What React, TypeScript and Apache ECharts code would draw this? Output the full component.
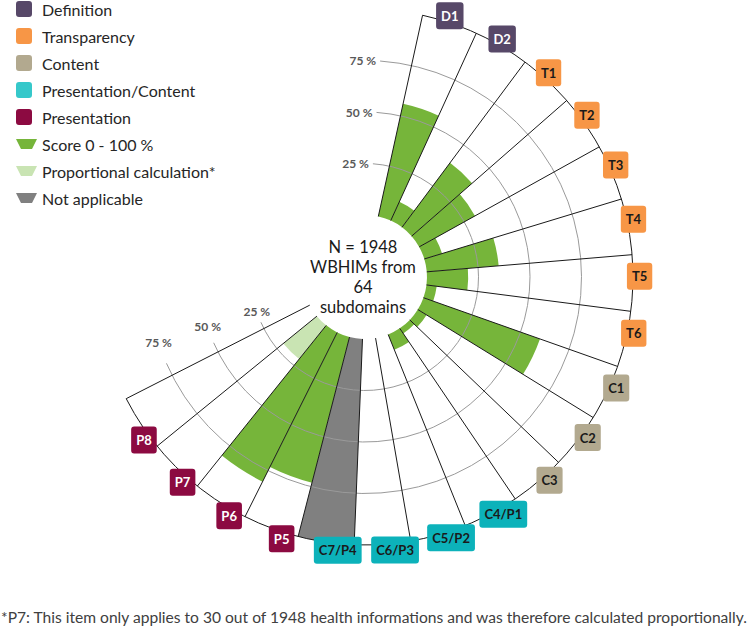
import React, { useEffect, useRef } from 'react';
import * as echarts from 'echarts';

// ---------- data ----------
const categories = ['D1', 'D2', 'T1', 'T2', 'T3', 'T4', 'T5', 'T6', 'C1', 'C2', 'C3', 'C4/P1', 'C5/P2', 'C6/P3', 'C7/P4', 'P5', 'P6', 'P7', 'P8'];
const categoryGroups = ['D', 'D', 'T', 'T', 'T', 'T', 'T', 'T', 'C', 'C', 'C', 'CP', 'CP', 'CP', 'CP', 'P', 'P', 'P', 'P'];
const scoreValues = [56, 10, 39, 31, 9, 35, 20, 5, 60, 5, 3, 8, 0, 0, null, 73, 81, null, 0];
const proportionalValues = [null, null, null, null, null, null, null, null, null, null, null, null, null, null, null, null, null, 21, null];
const notApplicableValues = [null, null, null, null, null, null, null, null, null, null, null, null, null, null, 100, null, null, null, null];
const radiusTicks = [25, 50, 75];
const groupNames = ['Definition', 'Transparency', 'Content', 'Presentation/Content', 'Presentation'];
const seriesNames = ['Score 0 - 100 %', 'Proportional calculation*', 'Not applicable'];
const centerLines = ['N = 1948', 'WBHIMs from', '64', 'subdomains'];
const footnote = '*P7: This item only applies to 30 out of 1948 health informations and was therefore calculated proportionally.';

// ---------- styles / geometry ----------
const FONT = 'Lato, "Open Sans", sans-serif';
const CX = 365;
const CY = 277;
const R_IN = 62;
const R_OUT = 268;
const START_CW = 12.4; // degrees clockwise from 12 o'clock
const SPAN = 230.6;
const LABEL_START_CW = 12.0; // label ring (slightly tighter than the sectors)
const LABEL_SPAN = 227.6;
const LEADER_START_CW = 4;
const LEADER_END_CW = 246.5;
const LOWER_LABEL_CW = 252.5;
const LABEL_R = 103.2;

const GREEN = '#76b53a';
const LIGHT_GREEN = '#c9e4b3';
const GRAY = '#808080';
const groupStyle: Record<string, { bg: string; fg: string; legend: string }> = {
  D: { bg: '#574868', fg: '#ffffff', legend: '#574868' },
  T: { bg: '#f79646', fg: '#1a1a1a', legend: '#f79646' },
  C: { bg: '#b2a98f', fg: '#1a1a1a', legend: '#b2a98f' },
  CP: { bg: '#0cb2ba', fg: '#1a1a1a', legend: '#36c8ca' },
  P: { bg: '#8c0a41', fg: '#ffffff', legend: '#8c0a41' },
};
const groupKeys = ['D', 'T', 'C', 'CP', 'P'];

const SQUARE = 'path://M3,0H13A3,3 0 0 1 16,3V13A3,3 0 0 1 13,16H3A3,3 0 0 1 0,13V3A3,3 0 0 1 3,0ZM21,8L21,8Z';
const TRAP = 'path://M0,3H21L16,13H5ZM0,0L0,0ZM0,16L0,16Z';

const rOf = (v: number) => R_IN + ((R_OUT - R_IN) * v) / 100;

const hiddenAxis = {
  axisLine: { show: false },
  axisTick: { show: false },
  axisLabel: { show: false },
  splitLine: { show: false },
};

export default function App() {
  const ref = useRef<HTMLDivElement>(null);

  useEffect(() => {
    if (!ref.current) return;
    const chart = echarts.init(ref.current, undefined, { renderer: 'svg' });

    const lowerLabels = radiusTicks.map((v) => {
      const r = rOf(v);
      const a = (LOWER_LABEL_CW * Math.PI) / 180;
      return {
        type: 'text',
        x: CX + r * Math.sin(a),
        y: CY - r * Math.cos(a),
        z: 20,
        style: {
          text: v + ' %',
          fill: '#595959',
          font: 'bold 12px ' + FONT,
          align: 'center',
          verticalAlign: 'middle',
          textAlign: 'center',
          textVerticalAlign: 'middle',
        },
      };
    });

    const option: any = {
      animation: false,
      backgroundColor: '#ffffff',
      textStyle: { fontFamily: FONT },
      legend: {
        orient: 'vertical',
        left: 11,
        top: -4,
        itemWidth: 21,
        itemHeight: 16,
        itemGap: 11,
        selectedMode: false,
        textStyle: { fontFamily: FONT, fontSize: 16, color: '#262626', lineHeight: 16 },
        data: [
          ...groupNames.map((n) => ({ name: n, icon: SQUARE })),
          ...seriesNames.map((n) => ({ name: n, icon: TRAP })),
        ],
      },
      polar: [
        { center: [CX, CY], radius: [R_IN, R_OUT] },
        { center: [CX, CY], radius: [R_IN, R_OUT] },
        { center: [CX, CY], radius: [0, R_OUT] },
        { center: [CX, CY], radius: [R_IN, R_OUT] },
      ],
      angleAxis: [
        {
          polarIndex: 0,
          type: 'category',
          data: categories,
          startAngle: 90 - START_CW,
          endAngle: 90 - START_CW - SPAN,
          clockwise: true,
          boundaryGap: true,
          axisLine: { show: false },
          axisTick: { show: false },
          axisLabel: { show: false },
          splitLine: { show: true, lineStyle: { color: '#1a1a1a', width: 1 } },
          z: 5,
        },
        {
          polarIndex: 1,
          type: 'value',
          min: 0,
          max: 1,
          startAngle: 90 - LEADER_START_CW,
          endAngle: 90 - LEADER_END_CW,
          clockwise: true,
          ...hiddenAxis,
          z: 4,
        },
        {
          polarIndex: 2,
          type: 'value',
          min: 0,
          max: 1,
          startAngle: 90 - START_CW,
          endAngle: 90 - START_CW - SPAN,
          clockwise: true,
          ...hiddenAxis,
          axisLine: { show: true, lineStyle: { color: '#1a1a1a', width: 1 } },
          z: 5,
        },
        {
          polarIndex: 3,
          type: 'category',
          data: categories,
          startAngle: 90 - LABEL_START_CW,
          endAngle: 90 - LABEL_START_CW - LABEL_SPAN,
          clockwise: true,
          boundaryGap: true,
          ...hiddenAxis,
        },
      ],
      radiusAxis: [
        { polarIndex: 0, type: 'value', min: 0, max: 100, interval: 25, ...hiddenAxis },
        {
          polarIndex: 1,
          type: 'value',
          min: 0,
          max: 100,
          interval: 25,
          axisLine: { show: false },
          axisTick: { show: false },
          axisLabel: {
            show: true,
            margin: 4,
            color: '#595959',
            fontFamily: FONT,
            fontSize: 12,
            fontWeight: 'bold',
            formatter: (v: number) => (radiusTicks.indexOf(v) >= 0 ? v + ' %' : ''),
          },
          splitLine: {
            show: true,
            lineStyle: { color: ['rgba(0,0,0,0)', '#9a9a9a', '#9a9a9a', '#9a9a9a', 'rgba(0,0,0,0)'], width: 1 },
          },
          z: 4,
        },
        { polarIndex: 2, type: 'value', min: 0, max: 100, ...hiddenAxis },
        { polarIndex: 3, type: 'value', min: 0, max: 100, ...hiddenAxis },
      ],
      series: [
        {
          type: 'bar',
          name: seriesNames[0],
          coordinateSystem: 'polar',
          polarIndex: 0,
          stack: 'score',
          barCategoryGap: '0%',
          data: scoreValues,
          itemStyle: { color: GREEN },
          z: 2,
        },
        {
          type: 'bar',
          name: seriesNames[1],
          coordinateSystem: 'polar',
          polarIndex: 0,
          stack: 'score',
          barCategoryGap: '0%',
          data: proportionalValues,
          itemStyle: { color: LIGHT_GREEN },
          z: 2,
        },
        {
          type: 'bar',
          name: seriesNames[2],
          coordinateSystem: 'polar',
          polarIndex: 0,
          stack: 'score',
          barCategoryGap: '0%',
          data: notApplicableValues,
          itemStyle: { color: GRAY },
          z: 2,
        },
        ...groupNames.map((n, i) => ({
          type: 'scatter',
          name: n,
          coordinateSystem: 'polar',
          polarIndex: 0,
          data: [],
          itemStyle: { color: groupStyle[groupKeys[i]].legend, opacity: 1 },
        })),
        {
          type: 'scatter',
          name: 'item labels',
          coordinateSystem: 'polar',
          polarIndex: 3,
          clip: false,
          symbolSize: 0.1,
          silent: true,
          z: 10,
          itemStyle: { color: 'rgba(0,0,0,0)', opacity: 1 },
          label: {
            show: true,
            position: 'inside',
            fontFamily: FONT,
            fontSize: 13,
            fontWeight: 'bold',
            lineHeight: 13,
            padding: [7, 5, 7, 5],
            borderRadius: 3,
            opacity: 1,
            formatter: (p: any) => categories[p.dataIndex],
          },
          data: categories.map((c, i) => ({
            value: [LABEL_R, c],
            label: {
              backgroundColor: groupStyle[categoryGroups[i]].bg,
              color: groupStyle[categoryGroups[i]].fg,
            },
          })),
        },
      ],
      graphic: [
        {
          type: 'text',
          x: CX - 2,
          y: CY,
          z: 20,
          style: {
            text: centerLines.join('\n'),
            fill: '#1a1a1a',
            font: '16.5px ' + FONT,
            lineHeight: 20,
            align: 'center',
            verticalAlign: 'middle',
            textAlign: 'center',
            textVerticalAlign: 'middle',
          },
        },
        ...lowerLabels,
        {
          type: 'text',
          x: 1,
          y: 617,
          z: 20,
          style: {
            text: footnote,
            fill: '#404040',
            font: '15.6px ' + FONT,
            align: 'left',
            verticalAlign: 'middle',
            textAlign: 'left',
            textVerticalAlign: 'middle',
          },
        },
      ],
    };

    chart.setOption(option);
    return () => chart.dispose();
  }, []);

  return (
    <div
      ref={ref}
      style={{ position: 'fixed', left: 0, top: 0, width: 749, height: 628, background: '#fff' }}
    />
  );
}
